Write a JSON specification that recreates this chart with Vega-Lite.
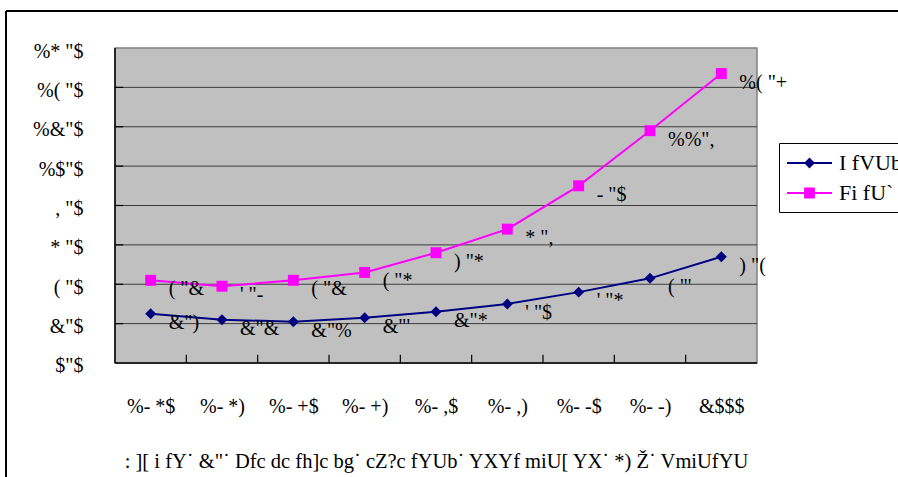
{
  "$schema": "https://vega.github.io/schema/vega-lite/v6.json",
  "autosize": "none",
  "width": 892,
  "height": 466,
  "padding": {"left": 6, "top": 11, "right": 0, "bottom": 0},
  "background": "white",
  "config": {"view": {"stroke": null}, "font": "Liberation Serif"},
  "datasets": {
    "main": [
      {"year": 1960, "value": 2.5, "series": "I fVUb", "lab": "&\")"},
      {"year": 1965, "value": 2.2, "series": "I fVUb", "lab": "&\"&"},
      {"year": 1970, "value": 2.1, "series": "I fVUb", "lab": "&\"%"},
      {"year": 1975, "value": 2.3, "series": "I fVUb", "lab": "&\"'"},
      {"year": 1980, "value": 2.6, "series": "I fVUb", "lab": "&\"*"},
      {"year": 1985, "value": 3.0, "series": "I fVUb", "lab": "' \"$"},
      {"year": 1990, "value": 3.6, "series": "I fVUb", "lab": "' \"*"},
      {"year": 1995, "value": 4.3, "series": "I fVUb", "lab": "( \"'"},
      {"year": 2000, "value": 5.4, "series": "I fVUb", "lab": ") \"("},
      {"year": 1960, "value": 4.2, "series": "Fi fU`", "lab": "( \"&"},
      {"year": 1965, "value": 3.9, "series": "Fi fU`", "lab": "' \"-"},
      {"year": 1970, "value": 4.2, "series": "Fi fU`", "lab": "( \"&"},
      {"year": 1975, "value": 4.6, "series": "Fi fU`", "lab": "( \"*"},
      {"year": 1980, "value": 5.6, "series": "Fi fU`", "lab": ") \"*"},
      {"year": 1985, "value": 6.8, "series": "Fi fU`", "lab": "* \","},
      {"year": 1990, "value": 9.0, "series": "Fi fU`", "lab": "- \"$"},
      {"year": 1995, "value": 11.8, "series": "Fi fU`", "lab": "%%\","},
      {"year": 2000, "value": 14.7, "series": "Fi fU`", "lab": "%( \"+"}
    ],
    "gy": [{"v": 2}, {"v": 4}, {"v": 6}, {"v": 8}, {"v": 10}, {"v": 12}, {"v": 14}],
    "gx": [{"v": 1962.5}, {"v": 1967.5}, {"v": 1972.5}, {"v": 1977.5}, {"v": 1982.5}, {"v": 1987.5}, {"v": 1992.5}, {"v": 1997.5}],
    "one": [{}]
  },
  "encoding": {
    "x": {
      "type": "quantitative",
      "scale": {"domain": [1949.86, 2012.383], "nice": false, "zero": false},
      "axis": {
        "values": [1960, 1965, 1970, 1975, 1980, 1985, 1990, 1995, 2000],
        "labelExpr": "['%- *$','%- *)','%- +$','%- +)','%- ,$','%- ,)','%- -$','%- -)','&$$$'][(datum.value-1960)/5]",
        "domain": false, "ticks": false, "grid": false,
        "offset": -114, "labelPadding": 33,
        "labelFont": "Liberation Serif", "labelFontSize": 20, "labelColor": "black",
        "labelFlush": false, "labelOverlap": false,
        "title": ": ][ i fY˙ &\"˙ Dfc dc fh]c bg˙ cZ?c fYUb˙ YXYf miU[ YX˙ *) Ž˙ VmiUfYU",
        "titleFont": "Liberation Serif", "titleFontSize": 20.5, "titleFontWeight": "normal",
        "titleColor": "black", "titlePadding": 35, "titleX": 430, "titleAlign": "center"
      }
    },
    "y": {
      "type": "quantitative",
      "scale": {"domain": [-5.7905, 17.8794], "nice": false, "zero": false},
      "axis": {
        "values": [0, 2, 4, 6, 8, 10, 12, 14, 16],
        "labelExpr": "['$\"$','&\"$','( \"$','* \"$',', \"$','%$\"$','%&\"$','%( \"$','%* \"$'][datum.value/2]",
        "domain": false, "ticks": false, "grid": false,
        "offset": -109, "labelPadding": 32,
        "labelFont": "Liberation Serif", "labelFontSize": 20, "labelColor": "black",
        "labelBaseline": "middle", "labelOffset": 3,
        "labelFlush": false, "labelOverlap": false,
        "title": null
      }
    }
  },
  "layer": [
    {
      "data": {"name": "one"},
      "mark": {"type": "rect", "fill": "#C0C0C0", "stroke": "#808080", "strokeWidth": 1.5},
      "encoding": {
        "x": {"datum": 1957.5},
        "x2": {"datum": 2002.5},
        "y": {"datum": 0},
        "y2": {"datum": 16}
      }
    },
    {
      "data": {"name": "gy"},
      "mark": {"type": "rule", "color": "#3c3c3c", "strokeWidth": 1},
      "encoding": {
        "x": {"datum": 1957.5},
        "x2": {"datum": 2002.5},
        "y": {"field": "v"}
      }
    },
    {
      "data": {"name": "gy"},
      "mark": {"type": "rule", "color": "black", "strokeWidth": 1.2},
      "encoding": {
        "x": {"datum": 1957.5},
        "x2": {"datum": 1958.07},
        "y": {"field": "v"}
      }
    },
    {
      "data": {"name": "gx"},
      "mark": {"type": "rule", "color": "black", "strokeWidth": 1.2},
      "encoding": {
        "x": {"field": "v"},
        "y": {"datum": 0},
        "y2": {"datum": 0.42}
      }
    },
    {
      "data": {"name": "one"},
      "mark": {"type": "rule", "color": "black", "strokeWidth": 1.5},
      "encoding": {
        "x": {"datum": 1957.5},
        "y": {"datum": 0},
        "y2": {"datum": 16}
      }
    },
    {
      "data": {"name": "one"},
      "mark": {"type": "rule", "color": "black", "strokeWidth": 1.5},
      "encoding": {
        "x": {"datum": 1957.5},
        "x2": {"datum": 2002.5},
        "y": {"datum": 0}
      }
    },
    {
      "data": {"name": "one"},
      "mark": {"type": "rule", "color": "black", "strokeWidth": 2},
      "encoding": {
        "x": {"datum": 1949.86},
        "x2": {"datum": 2012.383},
        "y": {"datum": 17.8794}
      }
    },
    {
      "data": {"name": "one"},
      "mark": {"type": "rule", "color": "black", "strokeWidth": 2},
      "encoding": {
        "x": {"datum": 1949.86},
        "y": {"datum": 17.8794},
        "y2": {"datum": -5.7905}
      }
    },
    {
      "data": {"name": "main"},
      "mark": {"type": "line", "strokeWidth": 2},
      "encoding": {
        "x": {"field": "year"},
        "y": {"field": "value"},
        "color": {
          "field": "series", "type": "nominal",
          "scale": {"domain": ["I fVUb", "Fi fU`"], "range": ["#000080", "#FF00FF"]},
          "legend": {
            "orient": "none", "legendX": 773, "legendY": 132,
            "title": null, "strokeColor": "black", "fillColor": "white",
            "padding": 8, "symbolSize": 576, "rowPadding": 7,
            "labelFont": "Liberation Serif", "labelFontSize": 22, "labelColor": "black",
            "labelOffset": 28, "labelLimit": 0,
            "encode": {
              "symbols": {
                "update": {
                  "shape": {"signal": "datum.value === 'I fVUb' ? 'M-1,-0.09H2.75V0.09H-1Z M0.875,-0.45L1.325,0L0.875,0.45L0.425,0Z' : 'M-1,-0.09H2.75V0.09H-1Z M0.425,-0.45H1.325V0.45H0.425Z'"},
                  "fill": {"signal": "datum.value === 'I fVUb' ? '#000080' : '#FF00FF'"},
                  "stroke": {"value": "transparent"},
                  "strokeWidth": {"value": 0},
                  "opacity": {"value": 1}
                }
              }
            }
          }
        }
      }
    },
    {
      "data": {"name": "main"},
      "mark": {"type": "point", "filled": true, "opacity": 1, "size": 120},
      "encoding": {
        "x": {"field": "year"},
        "y": {"field": "value"},
        "color": {"condition": {"test": "datum.series === 'I fVUb'", "value": "#000080"}, "value": "#FF00FF"},
        "shape": {"condition": {"test": "datum.series === 'I fVUb'", "value": "diamond"}, "value": "square"}
      }
    },
    {
      "data": {"name": "main"},
      "mark": {"type": "text", "align": "left", "baseline": "middle", "dx": 18, "dy": 9, "font": "Liberation Serif", "fontSize": 20, "color": "black"},
      "encoding": {
        "x": {"field": "year"},
        "y": {"field": "value"},
        "text": {"field": "lab"}
      }
    }
  ]
}
